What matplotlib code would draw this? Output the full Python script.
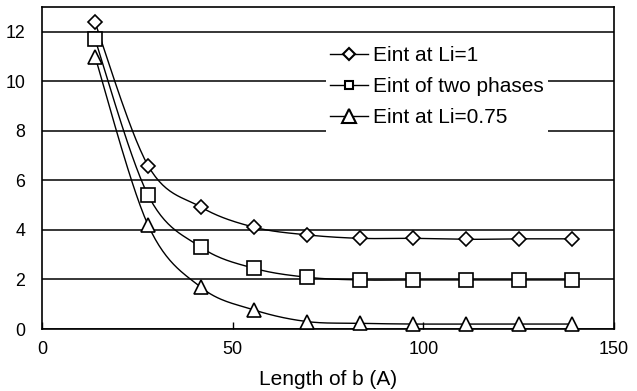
import numpy as np
import matplotlib
matplotlib.use("Agg")
import matplotlib.pyplot as plt
from matplotlib.lines import Line2D

plt.rcParams['font.family'] = ['Liberation Sans', 'DejaVu Sans']

# Length of b (A)
b_length = [13.9, 27.8, 41.7, 55.6, 69.5, 83.4, 97.3, 111.2, 125.1, 139.0]
# Interaction energies
eint_li1 = [12.38, 6.60, 4.92, 4.11, 3.80, 3.66, 3.66, 3.62, 3.64, 3.64]
eint_two_phases = [11.70, 5.41, 3.30, 2.45, 2.09, 1.98, 1.98, 1.98, 1.98, 1.98]
eint_li075 = [11.00, 4.20, 1.68, 0.77, 0.30, 0.23, 0.20, 0.20, 0.20, 0.20]

labels = ["Eint at Li=1", "Eint of two phases", "Eint at Li=0.75"]
markers = ["D", "s", "^"]
msizes = [7.5, 10, 10]
legend_msizes = [6.3, 6.0, 9.5]


def smooth_curve(x, y, n=30):
    """Bezier-smoothed polyline through the points (Catmull-Rom style)."""
    pts = np.column_stack([x, y]).astype(float)
    out = []
    for i in range(len(pts) - 1):
        p0 = pts[i - 1] if i > 0 else pts[i]
        p1 = pts[i]
        p2 = pts[i + 1]
        p3 = pts[i + 2] if i + 2 < len(pts) else pts[i + 1]
        c1 = p1 + (p2 - p0) / 6.0
        c2 = p2 - (p3 - p1) / 6.0
        t = np.linspace(0, 1, n)[:, None]
        seg = ((1 - t) ** 3) * p1 + 3 * ((1 - t) ** 2) * t * c1 + 3 * (1 - t) * t ** 2 * c2 + t ** 3 * p2
        out.append(seg if i == 0 else seg[1:])
    seg = np.vstack(out)
    return seg[:, 0], seg[:, 1]


fig = plt.figure(figsize=(6.37, 3.91), dpi=100)
ax = fig.add_axes([42 / 637, 62 / 391, 572 / 637, 322 / 391])

ax.set_xlim(0, 150)
ax.set_ylim(0, 13)
ax.set_xticks([0, 50, 100, 150])
ax.set_yticks([0, 2, 4, 6, 8, 10, 12])
ax.yaxis.grid(True, color='black', linewidth=1.1)
ax.set_axisbelow(True)
ax.tick_params(axis='x', direction='in', length=5, width=1, labelsize=13, pad=9)
ax.tick_params(axis='y', length=0, labelsize=12.8, pad=12)
for sp in ax.spines.values():
    sp.set_linewidth(1.2)

handles = []
for ys, mk, ms, lms in zip([eint_li1, eint_two_phases, eint_li075], markers, msizes, legend_msizes):
    sx, sy = smooth_curve(b_length, ys)
    ax.plot(sx, sy, color='black', linewidth=1.0, zorder=3)
    ax.plot(b_length, ys, linestyle='none', marker=mk, markersize=ms,
            markerfacecolor='white', markeredgecolor='black', markeredgewidth=1.2,
            zorder=4, clip_on=False)
    handles.append(Line2D([], [], color='black', linewidth=1.0, marker=mk,
                          markersize=lms, markerfacecolor='white',
                          markeredgecolor='black', markeredgewidth=1.5))

ax.set_xlabel("Length of b (A)", fontsize=15, labelpad=8)

leg = ax.legend(handles, labels, loc='upper left',
                bbox_to_anchor=((326 - 42) / 572, (329 - 42) / 322),
                fontsize=15, frameon=True, fancybox=False, edgecolor='white',
                facecolor='white', framealpha=1.0, handlelength=1.8,
                handletextpad=0.25, labelspacing=0.58, borderpad=0.2,
                borderaxespad=0)
leg.get_frame().set_linewidth(0)
leg.set_zorder(5)

fig.savefig("out.png", dpi=100)
